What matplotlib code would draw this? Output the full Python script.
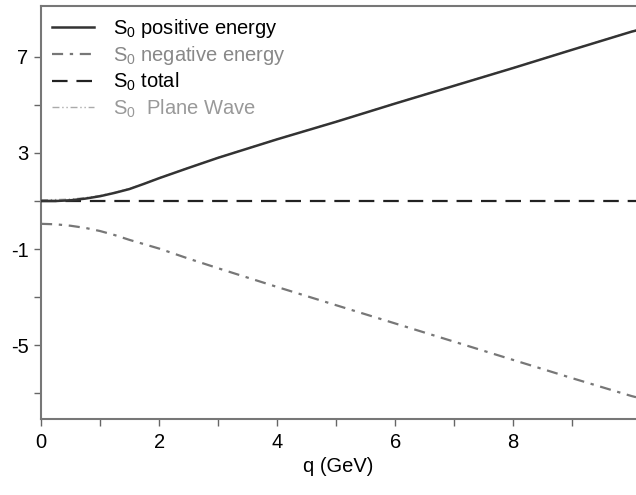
import matplotlib
matplotlib.use('Agg')
import matplotlib.pyplot as plt
from matplotlib.ticker import FixedLocator

plt.rcParams['font.family'] = ['Liberation Sans', 'DejaVu Sans']
plt.rcParams['mathtext.fontset'] = 'custom'
plt.rcParams['mathtext.rm'] = 'Liberation Sans'
plt.rcParams['axes.unicode_minus'] = False

# values
q = [0, 0.25, 0.5, 0.75, 1, 1.25, 1.5, 1.75, 2, 2.5, 3, 4, 5, 6, 7, 8, 9, 10, 10.08]
s0_pos = [1.0, 1.0, 1.03, 1.1, 1.2, 1.34, 1.5, 1.72, 1.95, 2.38, 2.8, 3.57, 4.3, 5.06, 5.8, 6.54, 7.3, 8.05, 8.1]
s0_neg = [0.05, 0.03, -0.03, -0.12, -0.25, -0.42, -0.62, -0.8, -0.98, -1.4, -1.8, -2.58, -3.34, -4.1, -4.86, -5.62, -6.38, -7.12, -7.17]
s0_tot = [1.0] * len(q)
s0_pw = [1.05, 1.06, 1.08, 1.14, 1.23, 1.36, 1.52, 1.73, 1.96, 2.39, 2.81, 3.58, 4.31, 5.07, 5.81, 6.55, 7.31, 8.06, 8.11]

fig = plt.figure(figsize=(6.36, 4.95), dpi=100)
ax = fig.add_axes([0.0645, 0.1535, 0.9355, 0.8345])

ax.plot(q, s0_pw, color='#aaaaaa', lw=1.0, dashes=[5, 2, 1, 2, 1, 2], label='S$_0$  Plane Wave', zorder=2)
ax.plot(q, s0_neg, color='#777777', lw=1.6, dashes=[5, 3, 1.5, 3], label='S$_0$ negative energy', zorder=3)
ax.plot(q, s0_tot, color='#222222', lw=1.6, dashes=[7, 4], label='S$_0$ total', zorder=3)
ax.plot(q, s0_pos, color='#333333', lw=1.8, label='S$_0$ positive energy', zorder=4)

ax.set_xlim(0, 10.08)
ax.set_ylim(-8.08, 9.125)

ax.xaxis.set_major_locator(FixedLocator([0, 2, 4, 6, 8]))
ax.xaxis.set_minor_locator(FixedLocator([1, 3, 5, 7, 9]))
ax.yaxis.set_major_locator(FixedLocator([-5, -1, 3, 7]))
ax.yaxis.set_minor_locator(FixedLocator([-7, -3, 1, 5]))
ax.tick_params(which='both', direction='out', length=5, color='#666666', labelsize=14.5, width=1)
ax.tick_params(axis='x', pad=5)
ax.tick_params(axis='y', pad=4)

for s in ['left', 'bottom', 'top']:
    ax.spines[s].set_color('#777777')
    ax.spines[s].set_linewidth(1.5)
ax.spines['right'].set_visible(False)

ax.set_xlabel('q (GeV)', fontsize=14.5, labelpad=4)

h, l = ax.get_legend_handles_labels()
order = [3, 1, 2, 0]
leg = ax.legend([h[i] for i in order], [l[i] for i in order], loc='upper left', frameon=False,
                fontsize=14.5, handlelength=2.1, labelspacing=0.2, borderaxespad=0.3,
                borderpad=0.25, handletextpad=0.9)
colors = ['black', '#888888', 'black', '#999999']
for t, c in zip(leg.get_texts(), colors):
    t.set_color(c)

plt.savefig('out.png', dpi=100)
